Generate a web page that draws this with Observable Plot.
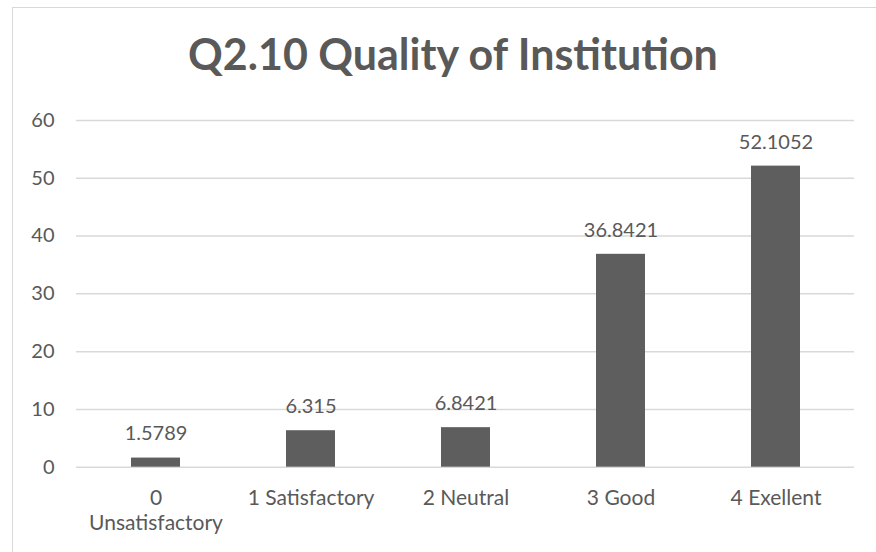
<!DOCTYPE html>
<html><head><meta charset="utf-8">
<script src="https://cdn.jsdelivr.net/npm/d3@7"></script>
<script src="https://cdn.jsdelivr.net/npm/@observablehq/plot@0.6"></script>
<style>
html,body{margin:0;padding:0;background:#fff;overflow:hidden;width:876px;height:552px;}
#frame{position:absolute;left:12px;top:7px;width:900px;height:600px;border:1px solid #d9d9d9;box-sizing:border-box;}
#title{position:absolute;left:0;top:28px;width:906px;text-align:center;font-family:Lato,sans-serif;font-weight:bold;font-size:43px;color:#595959;line-height:52px;}
#chart{position:absolute;left:0;top:90px;}
</style></head>
<body>
<div id="frame"></div>
<div id="title">Q2.10 Quality of Institution</div>
<div id="chart"></div>
<script>
const categories = ["0\nUnsatisfactory", "1 Satisfactory", "2 Neutral", "3 Good", "4 Exellent"];
const values = [1.5789, 6.315, 6.8421, 36.8421, 52.1052];
const valueLabels = ["1.5789", "6.315", "6.8421", "36.8421", "52.1052"];
const yTicks = [0, 10, 20, 30, 40, 50, 60];

const data = categories.map((c, i) => ({cat: c, value: values[i], label: valueLabels[i]}));

const chart = Plot.plot({
  width: 876,
  height: 462,
  marginTop: 30,
  marginBottom: 85.3,
  marginLeft: 76,
  marginRight: 22,
  style: {fontFamily: "Lato, sans-serif", fontSize: "20px", color: "#595959", background: "transparent"},
  x: {domain: categories, paddingInner: 0.685, paddingOuter: 0.3425, label: null},
  y: {domain: [0, 60], label: null},
  marks: [
    Plot.gridY(yTicks, {stroke: "#d9d9d9", strokeOpacity: 1, strokeWidth: 1.5}),
    Plot.axisY(yTicks, {tickSize: 0, tickPadding: 22, fontSize: 20, fill: "#595959", label: null}),
    Plot.axisX({tickSize: 0, tickPadding: 20, fontSize: 21, fill: "#595959", label: null, lineHeight: 1.2}),
    Plot.barY(data, {x: "cat", y: "value", fill: "#5e5e5e"}),
    Plot.text(data, {x: "cat", y: "value", text: "label", dy: -24, fontSize: 20, fill: "#595959"})
  ]
});
document.getElementById("chart").appendChild(chart);
</script>
</body></html>
